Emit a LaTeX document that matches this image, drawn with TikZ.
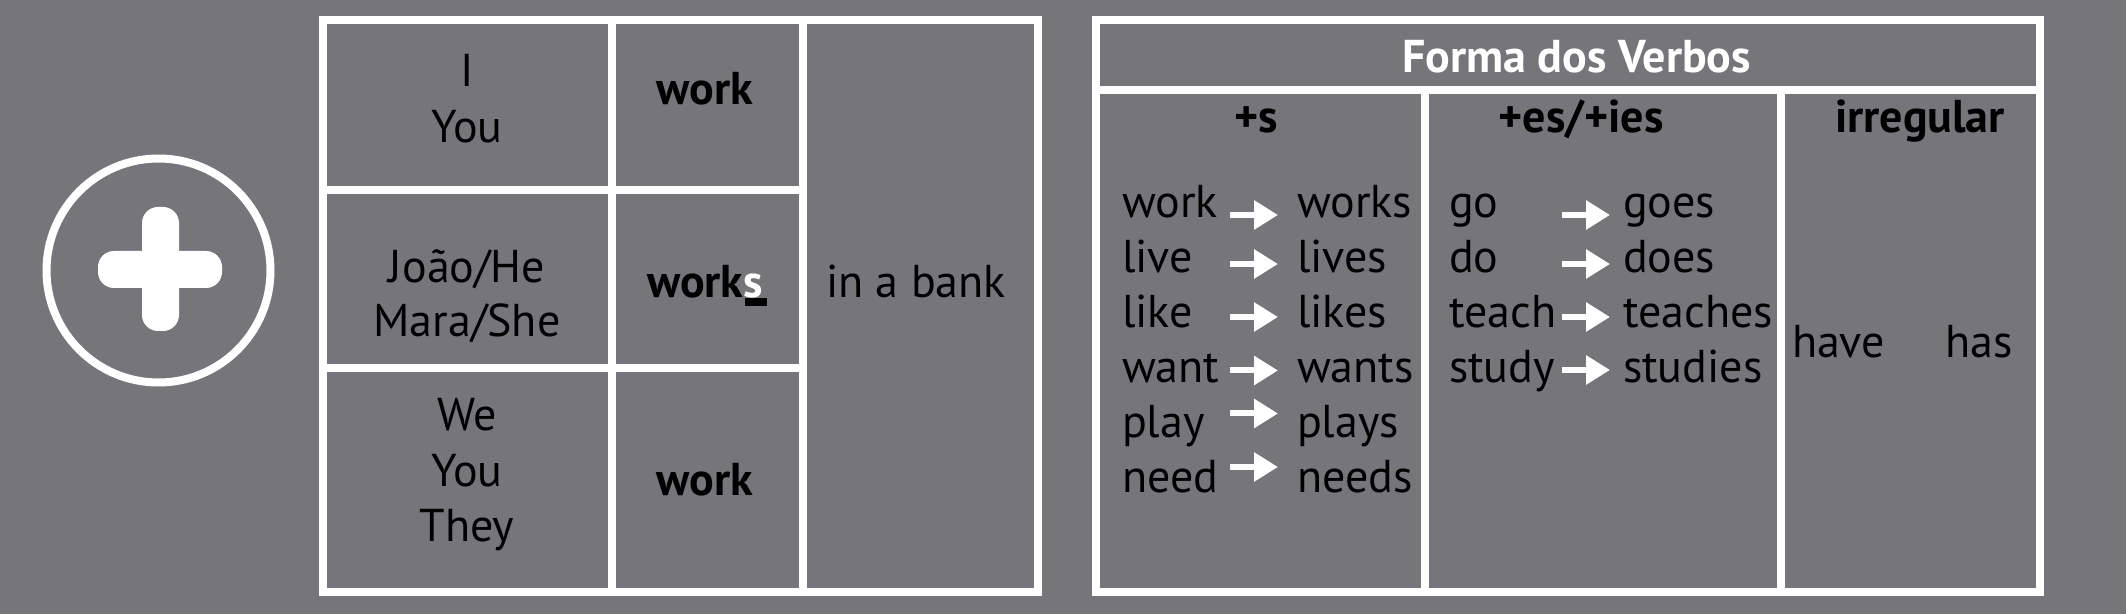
\documentclass[tikz,border=0pt]{standalone}
\usepackage{fontspec}
\setmainfont{PT Sans}
\usetikzlibrary{arrows.meta}
\definecolor{bggray}{RGB}{118,117,122}
\begin{document}
\begin{tikzpicture}[x=0.5pt, y=-0.5pt, line width=4pt,
    txt/.style={anchor=base, inner sep=0pt, font=\fontsize{23}{28}\selectfont},
    boldtxt/.style={txt, font=\fontsize{23}{28}\selectfont\bfseries},
    lefttxt/.style={txt, anchor=base west},
    verbarrow/.style={white, line width=3pt, -{Triangle[length=12pt, width=14pt]}}]
  \useasboundingbox (0,0) rectangle (2126,614);
  \fill[bggray] (0,0) rectangle (2126,614);
  % plus sign
  \draw[white] (158.5,270.5) circle (112);
  \fill[white, rounded corners=8pt] (98,251) rectangle (222,288)
                                    (142,207) rectangle (179,331);
  % left table
  \draw[white] (323,20) rectangle (1037.5,592)
               (611.7,20) -- (611.7,592)
               (802.5,20) -- (802.5,592)
               (323,190) -- (802.5,190)
               (323,368) -- (802.5,368);
  \draw (467,87) node[txt] (i) {I}
        (467,142.7) node[txt] (you) {You}
        (467,282.7) node[txt] (joao) {João/He}
        (467,337) node[txt] (mara) {Mara/She}
        (467,431) node[txt] (we) {We}
        (467,486.7) node[txt] (youpl) {You}
        (467,541.7) node[txt] (they) {They};
  \draw (705,105) node[boldtxt] (work) {work}
        (705,297.3) node[boldtxt] (works) {work\textcolor{white}{s}}
        (705,495) node[boldtxt] (workpl) {work}
        (916,298) node[txt] (bank) {in a bank};
  \fill (works.base east) ++(-22,1) rectangle ++(22,8);
  % right table
  \draw[white] (1096,20) rectangle (2040,592)
               (1096,90) -- (2040,90)
               (1425,90) -- (1425,592)
               (1781,90) -- (1781,592);
  \draw (1576.5,72.7) node[boldtxt, white] (title) {Forma dos Verbos}
        (1256,133) node[boldtxt] (hs) {+s}
        (1581,133) node[boldtxt] (hes) {+es/+ies}
        (1920,133) node[boldtxt] (hirr) {irregular};
  \draw (1118,218) node[lefttxt] (sa1) {work}  (1293,218) node[lefttxt] (sb1) {works}
        (1118,273) node[lefttxt] (sa2) {live}  (1293,273) node[lefttxt] (sb2) {lives}
        (1118,328) node[lefttxt] (sa3) {like}  (1293,328) node[lefttxt] (sb3) {likes}
        (1118,383) node[lefttxt] (sa4) {want}  (1293,383) node[lefttxt] (sb4) {wants}
        (1118,438) node[lefttxt] (sa5) {play}  (1293,438) node[lefttxt] (sb5) {plays}
        (1118,493) node[lefttxt] (sa6) {need}  (1293,493) node[lefttxt] (sb6) {needs};
  \draw (1445,218) node[lefttxt] (ea1) {go}    (1619,218) node[lefttxt] (eb1) {goes}
        (1445,273) node[lefttxt] (ea2) {do}    (1619,273) node[lefttxt] (eb2) {does}
        (1445,328) node[lefttxt] (ea3) {teach} (1619,328) node[lefttxt] (eb3) {teaches}
        (1445,383) node[lefttxt] (ea4) {study} (1619,383) node[lefttxt] (eb4) {studies};
  \draw (1788,358) node[lefttxt] (have) {have}
        (1941,358) node[lefttxt] (has) {has};
  % arrows
  \foreach \y [count=\n] in {215,264,317,370.5,413.5,467} {
    \coordinate (sx\n) at (1230,\y);
    \coordinate (sy\n) at (1278,\y);
    \draw[verbarrow] (sx\n) -- (sy\n);
  }
  \foreach \y [count=\n] in {215,264,317,370} {
    \coordinate (ex\n) at (1562,\y);
    \coordinate (ey\n) at (1610,\y);
    \draw[verbarrow] (ex\n) -- (ey\n);
  }
\end{tikzpicture}
\end{document}
